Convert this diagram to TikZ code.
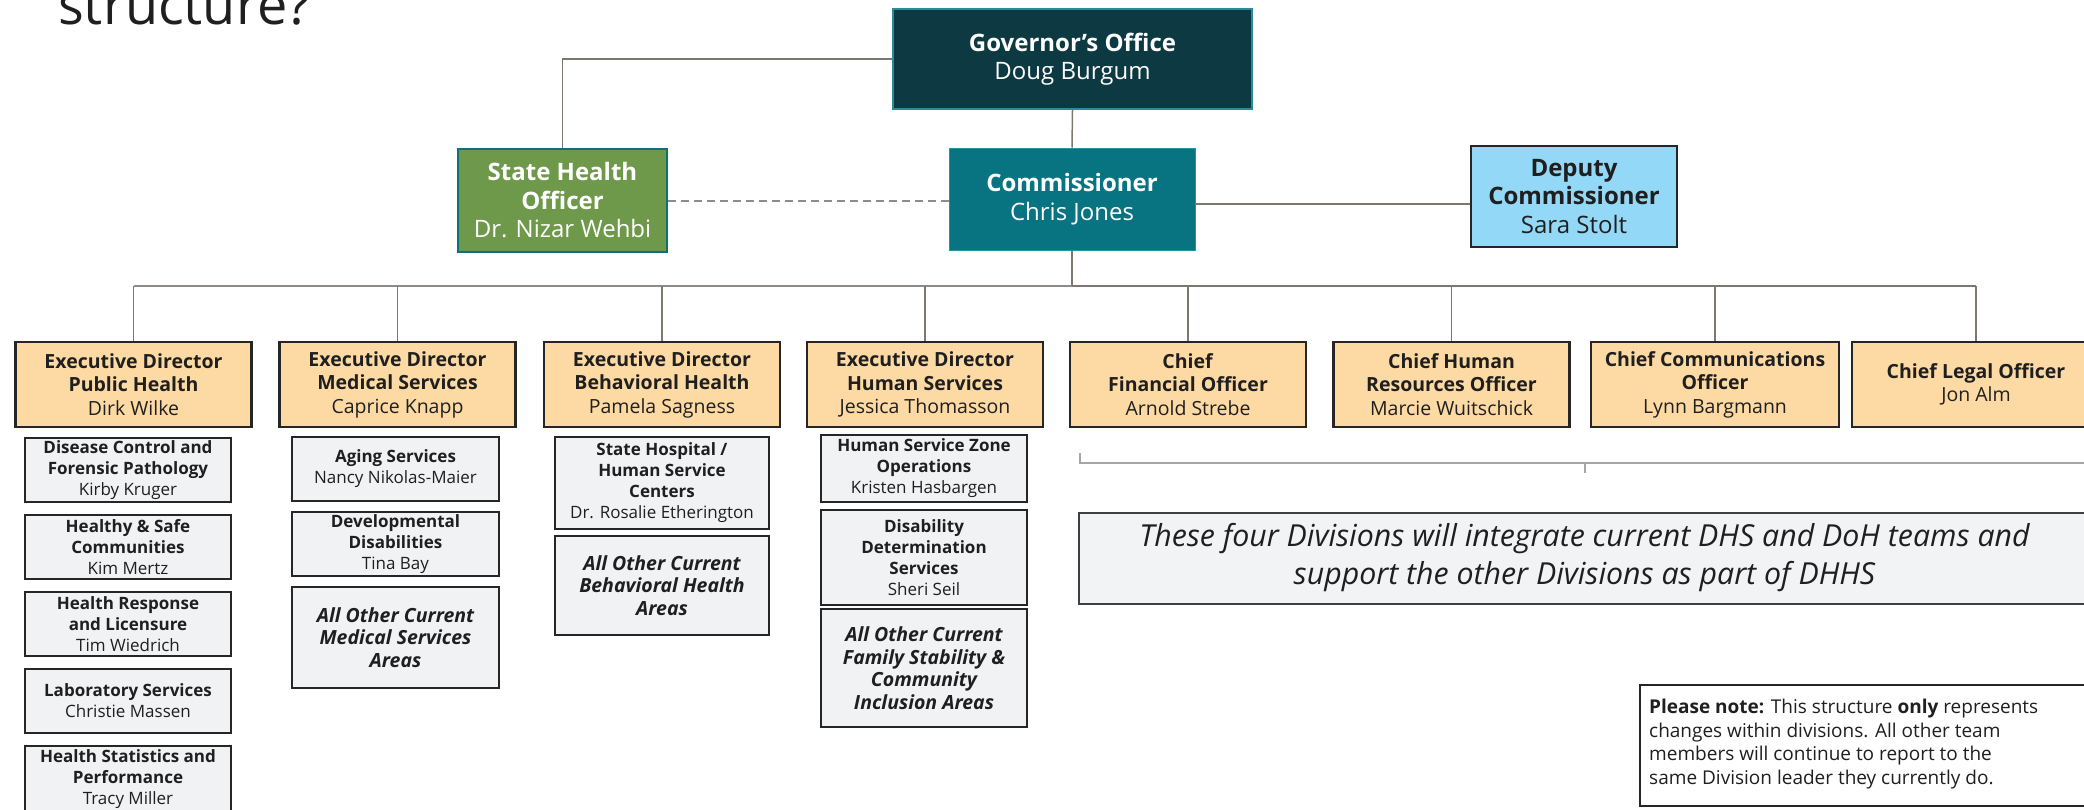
\documentclass[tikz,border=0pt]{standalone}
\usepackage{fontspec}
\setmainfont{Open Sans}
\definecolor{govF}{HTML}{0D3A42}
\definecolor{govB}{HTML}{2B8C98}
\definecolor{shoF}{HTML}{6F994A}
\definecolor{shoB}{HTML}{0E7079}
\definecolor{commF}{HTML}{087481}
\definecolor{commB}{HTML}{2793A0}
\definecolor{depF}{HTML}{93D8F6}
\definecolor{peach}{HTML}{FDDAA3}
\definecolor{subF}{HTML}{F1F2F4}
\definecolor{boxB}{HTML}{262626}
\definecolor{connC}{HTML}{7E7770}
\definecolor{dashC}{HTML}{8C8C8C}
\definecolor{brC}{HTML}{A6A6A6}
\definecolor{italF}{HTML}{F2F3F5}
\definecolor{italB}{HTML}{3F3F3F}
\definecolor{txtC}{HTML}{1F1F1F}
\newcommand\fTop{\fontsize{24}{28.5}\selectfont}
\newcommand\fExec{\fontsize{19.5}{23.5}\selectfont}
\newcommand\fSub{\fontsize{17}{21}\selectfont}
\newcommand\fAll{\fontsize{19.5}{22.5}\selectfont}
\newcommand\fItal{\fontsize{30.3}{38}\selectfont}
\newcommand\fNote{\fontsize{19}{23.4}\selectfont}
\begin{document}
\begin{tikzpicture}[x=1pt,y=-1pt,
  box/.style={draw, inner sep=0pt, align=center},
  govbox/.style={box, fill=govF, draw=govB, line width=2pt, text=white, font=\fTop, minimum width=359pt, minimum height=100pt},
  shobox/.style={box, fill=shoF, draw=shoB, line width=2.5pt, text=white, font=\fTop, minimum width=209pt, minimum height=103pt},
  commbox/.style={box, fill=commF, draw=commB, line width=1pt, text=white, font=\fTop, minimum width=246pt, minimum height=102pt},
  depbox/.style={box, fill=depF, draw=boxB, line width=2.5pt, text=txtC, font=\fTop, minimum width=206pt, minimum height=101pt},
  execbox/.style={box, fill=peach, draw=boxB, line width=2.5pt, text=txtC, font=\fExec, minimum width=236pt, minimum height=85pt},
  subbox/.style={box, fill=subF, draw=boxB, line width=2.5pt, text=txtC, font=\fSub},
  allbox/.style={subbox, font=\fAll\bfseries\itshape},
  conn/.style={draw=connC, line width=1.5pt},
  thinconn/.style={draw=connC, line width=1.2pt},
  dashconn/.style={draw=dashC, line width=2pt, dash pattern=on 8pt off 5pt},
  bracket/.style={draw=brC, line width=1.5pt}
]
\useasboundingbox (0,0) rectangle (2084,809);
\clip (0,0) rectangle (2084,809);

% title remnant
\node[anchor=base west, inner sep=0pt, font=\fontsize{54}{60}\selectfont, text=txtC] (title) at (58,24) {structure?};

% top level
\node[govbox] (gov) at (1072.5,59) {\textbf{Governor’s Office}\\Doug Burgum};
\node[shobox] (sho) at (562.5,200.5) {\textbf{State Health}\\\textbf{Officer}\\Dr. Nizar Wehbi};
\node[commbox] (comm) at (1072,199) {\textbf{Commissioner}\\Chris Jones};
\node[depbox] (dep) at (1574,196.5) {\textbf{Deputy}\\\textbf{Commissioner}\\Sara Stolt};

\draw[conn] (gov.west) -| (sho.north);
\draw[conn] (gov.south) -- (comm.north);
\draw[dashconn] (sho.east) -- (sho.east -| comm.west);
\draw[conn] ([yshift=-5pt]comm.east) -- ([yshift=-5pt]comm.east -| dep.west);

% executive row
\node[execbox] (e1) at (133.5,384.5) {\textbf{Executive Director}\\\textbf{Public Health}\\Dirk Wilke};
\node[execbox] (e2) at (397.5,384.5) {\textbf{Executive Director}\\\textbf{Medical Services}\\Caprice Knapp};
\node[execbox] (e3) at (662,384.5) {\textbf{Executive Director}\\\textbf{Behavioral Health}\\Pamela Sagness};
\node[execbox] (e4) at (925,384.5) {\textbf{Executive Director}\\\textbf{Human Services}\\Jessica Thomasson};
\node[execbox] (e5) at (1188,384.5) {\textbf{Chief}\\\textbf{Financial Officer}\\Arnold Strebe};
\node[execbox] (e6) at (1451.5,384.5) {\textbf{Chief Human}\\\textbf{Resources Officer}\\Marcie Wuitschick};
\node[execbox, minimum width=248pt] (e7) at (1715,384.5) {\textbf{Chief Communications}\\\textbf{Officer}\\Lynn Bargmann};
\node[execbox, minimum width=248pt] (e8) at (1976,384.5) {\textbf{Chief Legal Officer}\\Jon Alm};

\coordinate (busL) at (134,286);
\coordinate (busR) at (1976,286);
\coordinate (busM) at (1072,286);
\draw[draw=connC, line width=2.8pt] (comm.south) -- (busM);
\draw[draw=connC!85, line width=1.8pt] (busL) -- (busM);
\draw[draw=connC, line width=2.8pt] (busM) -- (busR);
\foreach \n in {e1,e2,e3,e4,e5,e6,e7,e8}{
  \draw[thinconn] (\n.north |- busL) -- (\n.north);
}

% column 1
\node[subbox, minimum width=206pt, minimum height=64pt] (s11) at (128,470) {\textbf{Disease Control and}\\\textbf{Forensic Pathology}\\Kirby Kruger};
\node[subbox, minimum width=206pt, minimum height=64pt] (s12) at (128,547) {\textbf{Healthy \& Safe}\\\textbf{Communities}\\Kim Mertz};
\node[subbox, minimum width=206pt, minimum height=64pt] (s13) at (128,624) {\textbf{Health Response}\\\textbf{and Licensure}\\Tim Wiedrich};
\node[subbox, minimum width=206pt, minimum height=64pt] (s14) at (128,701) {\textbf{Laboratory Services}\\Christie Massen};
\node[subbox, minimum width=206pt, minimum height=66pt] (s15) at (128,779) {\textbf{Health Statistics and}\\\textbf{Performance}\\Tracy Miller};

% column 2
\node[subbox, minimum width=207pt, minimum height=64pt] (s21) at (395.5,469) {\textbf{Aging Services}\\Nancy Nikolas-Maier};
\node[subbox, minimum width=207pt, minimum height=64pt] (s22) at (395.5,544) {\textbf{Developmental}\\\textbf{Disabilities}\\Tina Bay};
\node[allbox, minimum width=207pt, minimum height=101pt] (s23) at (395.5,637.5) {All Other Current\\Medical Services\\Areas};

% column 3
\node[subbox, minimum width=214pt, minimum height=92pt] (s31) at (662,483) {\textbf{State Hospital /}\\\textbf{Human Service}\\\textbf{Centers}\\Dr. Rosalie Etherington};
\node[allbox, minimum width=214pt, minimum height=99pt] (s32) at (662,585.5) {All Other Current\\Behavioral Health\\Areas};

% column 4
\node[subbox, minimum width=206pt, minimum height=67pt] (s41) at (924,468.5) {\textbf{Human Service Zone}\\\textbf{Operations}\\Kristen Hasbargen};
\node[subbox, minimum width=206pt, minimum height=95pt] (s42) at (924,557.5) {\textbf{Disability}\\\textbf{Determination}\\\textbf{Services}\\Sheri Seil};
\node[allbox, minimum width=206pt, minimum height=118pt] (s43) at (924,668) {All Other Current\\Family Stability \&\\Community\\Inclusion Areas};

% bracket under chief boxes
\coordinate (brL) at (1080,453);
\coordinate (brLb) at (1080,463);
\coordinate (brR) at (2090,463);
\coordinate (brM) at (1585,463);
\coordinate (brMt) at (1585,473);
\draw[bracket] (brL) -- (brLb) -- (brR);
\draw[bracket] (brM) -- (brMt);

% italic statement
\node[box, fill=italF, draw=italB, line width=2pt, minimum width=1011pt, minimum height=91pt, text=txtC, font=\fItal\itshape] (stmt) at (1584.5,558) {These four Divisions will integrate current DHS and DoH teams and\\support the other Divisions as part of DHHS};

% note
\node[draw=boxB, line width=1.5pt, fill=white, inner sep=0pt, minimum width=450pt, minimum height=121pt] (notebox) at (1865,745.5) {};
\node[anchor=west, inner sep=0pt, align=left, font=\fNote, text=txtC] (notetext) at (1649,744) {\textbf{Please note:} This structure \textbf{only} represents\\changes within divisions. All other team\\members will continue to report to the\\same Division leader they currently do.};
\end{tikzpicture}
\end{document}
